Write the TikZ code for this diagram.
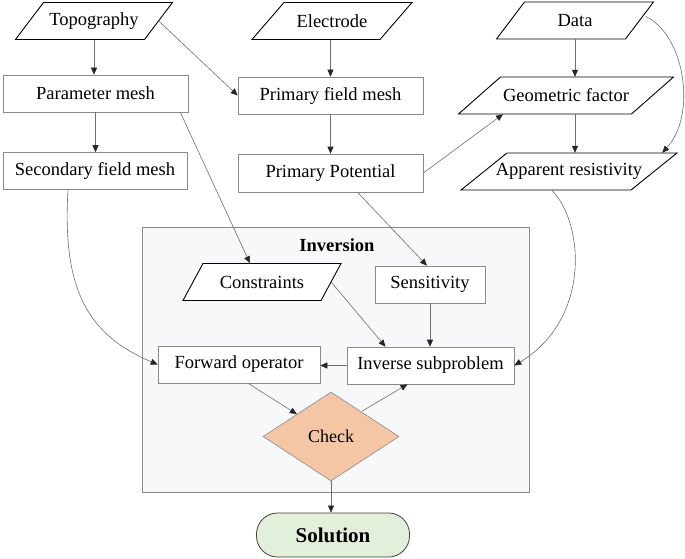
\documentclass[tikz,border=0pt]{standalone}
\usepackage{fontspec}
\setmainfont{Liberation Serif}
\usetikzlibrary{shapes.geometric,arrows.meta,calc}
\definecolor{linegray}{HTML}{6E6E6E}
\definecolor{boxgray}{HTML}{8A8A8A}
\definecolor{checkfill}{HTML}{F5C6A5}
\definecolor{solfill}{HTML}{E2EFDA}
\definecolor{invfill}{HTML}{F7F8FA}
\newcommand\drawpara[6]{%
  \draw[parapath] ({#2-#4/2+#5},{#3-18.5}) -- ({#2+#4/2+#5},{#3-18.5}) -- ({#2+#4/2-#5},{#3+18.5}) -- ({#2-#4/2-#5},{#3+18.5}) -- cycle;
  \node[paranode=#4] (#1) at (#2,#3) {#6};}
\begin{document}
\begin{tikzpicture}[x=1pt,y=-1pt,
  every node/.style={font=\fontsize{18.5}{20}\selectfont, inner sep=0pt},
  rectbox/.style={draw=boxgray, line width=0.6pt, fill=white, minimum width=#1, minimum height=37},
  paranode/.style={minimum width=#1, minimum height=37},
  parapath/.style={draw=black, line width=0.9pt, fill=white, line join=miter},
  conn/.style={draw=linegray, line width=0.6pt, -{Triangle[length=7pt,width=6pt,color=black!85]}}
]
\useasboundingbox (0,0) rectangle (685,559);

% Inversion frame
\node[draw=boxgray, line width=0.6pt, fill=invfill, minimum width=387, minimum height=265] (invbox) at (335.5,359.5) {};
\node[font=\fontsize{18.5}{20}\selectfont\bfseries] (invlabel) at (337,245) {Inversion};

% parallelograms
\drawpara{topo}{94}{21}{129}{14}{Topography}
\drawpara{elec}{332}{21}{128}{16}{Electrode}
\drawpara{data}{575}{20.5}{129}{14}{Data}
\drawpara{geom}{566}{95.5}{173}{21}{Geometric factor}
\drawpara{appres}{569}{171.5}{170}{23}{Apparent resistivity}
\drawpara{constr}{262}{282}{138}{10}{Constraints}

% rectangles
\node[rectbox=185] (pmesh) at (95.5,93.5) {Parameter mesh};
\node[rectbox=185] (pfmesh) at (330.5,95.5) {Primary field mesh};
\node[rectbox=184] (sfmesh) at (95,171) {Secondary field mesh};
\node[rectbox=185, minimum height=38] (ppot) at (330.5,173) {Primary Potential};
\node[rectbox=110] (sens) at (430,284.5) {Sensitivity};
\node[rectbox=162] (fwd) at (239,364.5) {Forward operator};
\node[rectbox=167] (inv) at (430.5,365.5) {Inverse subproblem};

% check and solution
\node[diamond, aspect=1.53, draw=boxgray, line width=0.6pt, fill=checkfill, minimum width=136, minimum height=89, font=\fontsize{18}{20}\selectfont] (check) at (331,436.5) {Check};
\node[draw=black!75, line width=0.8pt, fill=solfill, rounded corners=21, minimum width=153, minimum height=44, font=\fontsize{21}{24}\selectfont\bfseries] (sol) at (333,535) {Solution};

% connectors
\draw[conn] (topo.south) -- (topo.south |- pmesh.north);
\draw[conn] (topo.east) -- (pfmesh.west);
\draw[conn] (pfmesh.north |- elec.south) -- (pfmesh.north);
\draw[conn] (pmesh.south) -- (pmesh.south |- sfmesh.north);
\draw[conn] (pfmesh.south) -- (ppot.north);
\draw[conn] (data.south) -- (data.south |- geom.north);
\draw[conn] (data.south |- geom.south) -- (data.south |- appres.north);
\draw[conn] ($(data.east)+(6,-4)$) .. controls (685,35) and (697,115) .. ([xshift=8pt]appres.north east);
\draw[conn] (ppot.east) -- ([xshift=-63pt]geom.south);
\draw[conn] ([xshift=-8pt]pmesh.south east) -- ([xshift=-12pt]constr.north);
\draw[conn] ([xshift=27pt]ppot.south) -- ([xshift=-3pt]sens.north);
\draw[conn] ([xshift=-27pt]sfmesh.south) .. controls (62,290) and (88,335) .. (fwd.west);
\draw[conn] ([xshift=-17pt]appres.south) .. controls (585,225) and (590,320) .. (inv.east);
\draw[conn] (constr.east) -- ([xshift=-45pt]inv.north);
\draw[conn] (sens.south) -- (sens.south |- inv.north);
\draw[conn] (inv.west) -- (inv.west -| fwd.east);
\draw[conn] ([xshift=9pt]fwd.south) -- (check.north west);
\draw[conn] ([xshift=-3pt,yshift=3pt]check.north east) -- ([xshift=-23pt]inv.south);
\draw[conn] (check.south) -- (check.south |- sol.north);
\end{tikzpicture}
\end{document}
